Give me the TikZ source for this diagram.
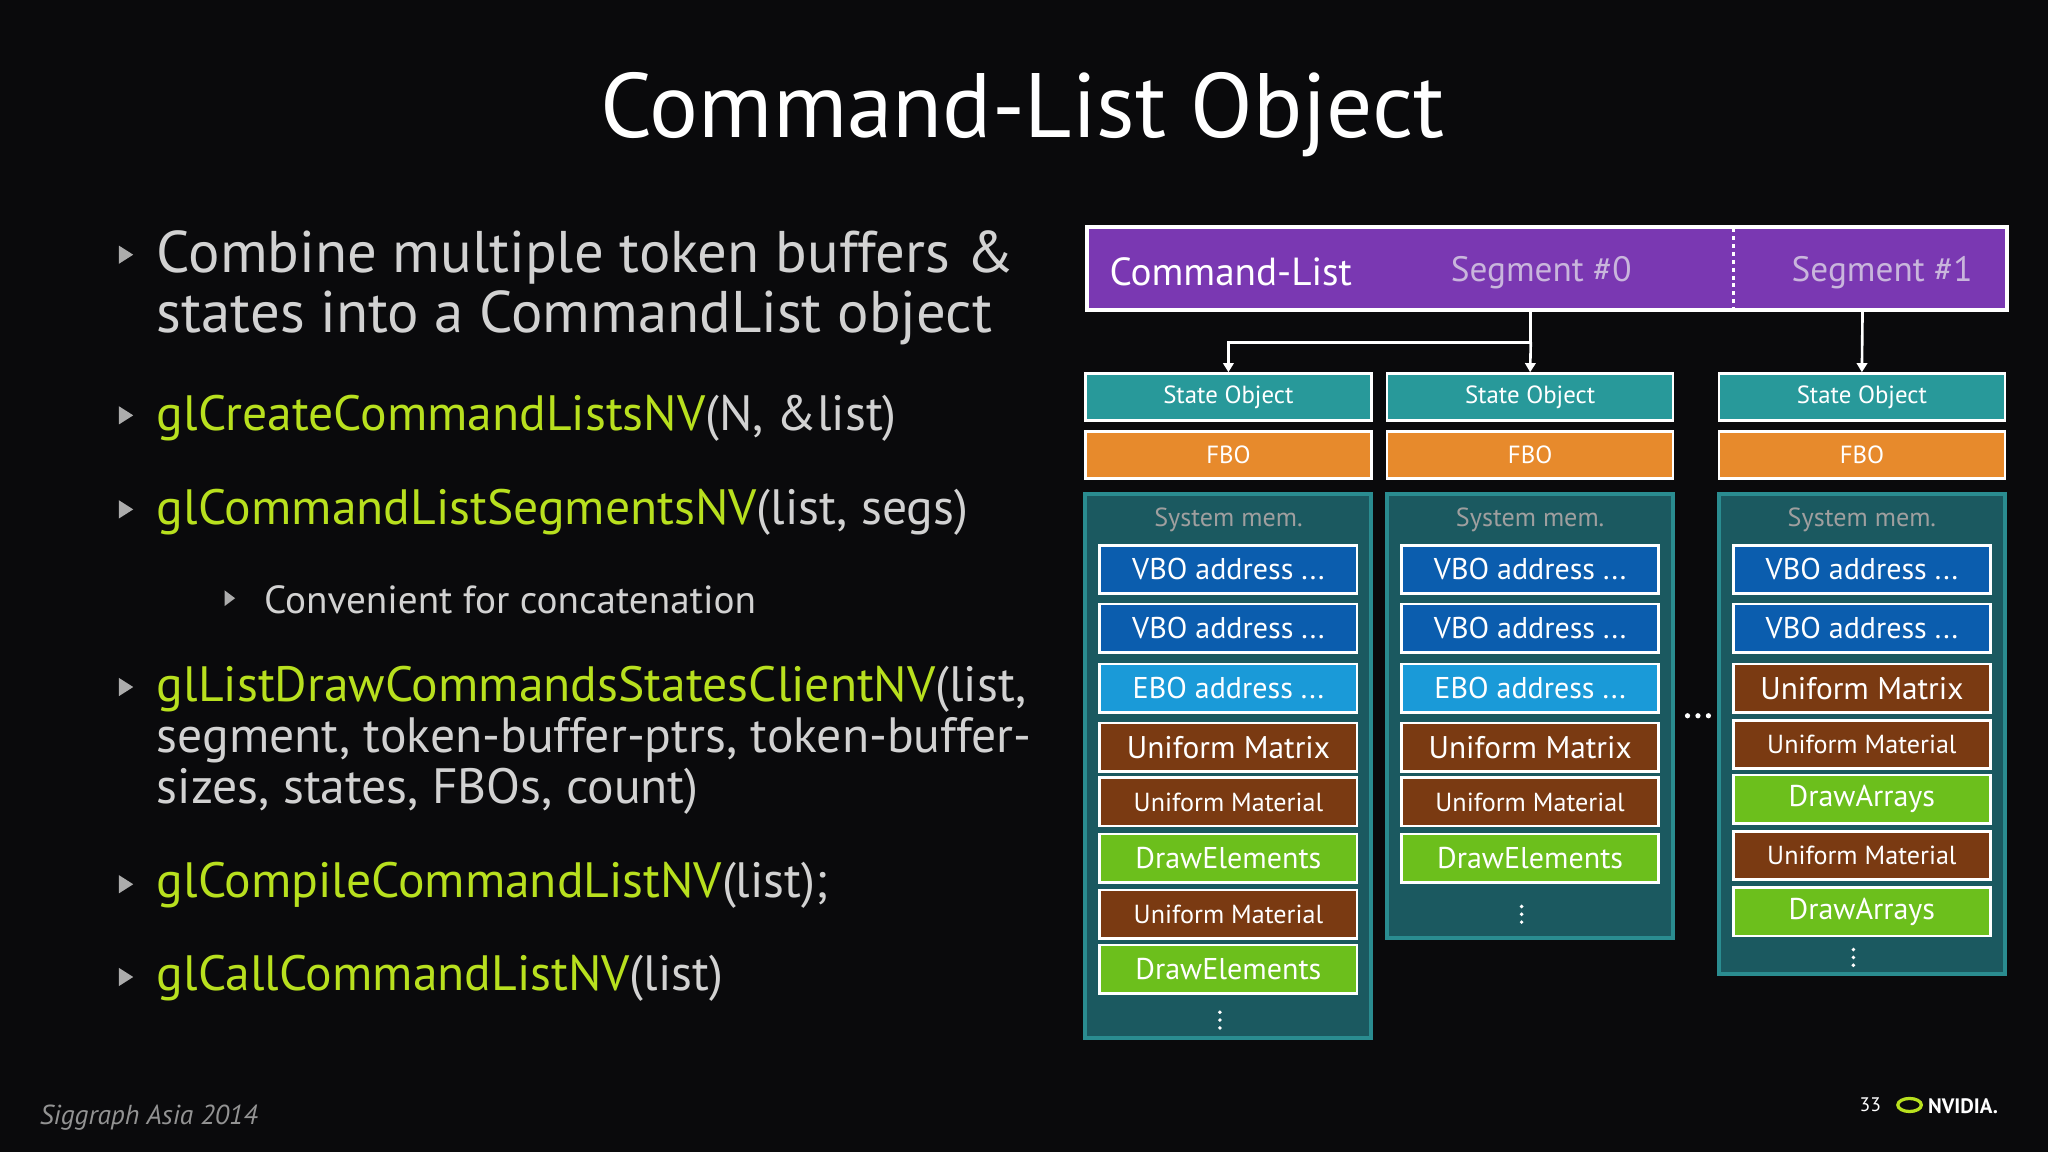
\documentclass[tikz,border=0pt]{standalone}
\usepackage{fontspec}
\setmainfont{PT Sans}
\usetikzlibrary{arrows.meta}
\definecolor{bg}{HTML}{0A0A0C}
\definecolor{txt}{HTML}{D2D2D2}
\definecolor{nvg}{HTML}{B8E01E}
\definecolor{purp}{HTML}{7A38B2}
\definecolor{segt}{HTML}{C9B6DC}
\definecolor{teal}{HTML}{28999A}
\definecolor{orng}{HTML}{E78A2C}
\definecolor{cont}{HTML}{1B5960}
\definecolor{contb}{HTML}{2A8C90}
\definecolor{vbo}{HTML}{0B5DAE}
\definecolor{ebo}{HTML}{1A9AD8}
\definecolor{unif}{HTML}{7A3A12}
\definecolor{drw}{HTML}{6CBF1C}
\tikzset{
 fs/.style={font=\fontsize{#1}{#1}\selectfont},
 hdr/.style={draw=white, line width=2pt, minimum width=219pt, minimum height=36pt, text=white, fs=19, inner sep=0pt},
 item/.style={draw=white, line width=2pt, minimum width=197pt, minimum height=37pt, text=white, inner sep=0pt},
 vbo/.style={item, fill=vbo, fs=23},
 ebo/.style={item, fill=ebo, fs=23},
 um/.style={item, fill=unif, fs=24},
 umat/.style={item, fill=unif, fs=20},
 dr/.style={item, fill=drw, fs=23},
 box/.style={draw=contb, line width=3pt, fill=cont},
 arr/.style={draw=white, line width=2pt, -{Triangle[length=7pt,width=8pt]}},
 btxt/.style={anchor=west, text=txt, fs=41, inner sep=0pt},
 tri/.style={fill=gray!65},
 dot/.style={fill=white}
}
\newcommand{\vdts}[2]{\fill[dot] (#1,#2-6) circle (1.5pt) (#1,#2) circle (1.5pt) (#1,#2+6) circle (1.5pt);}
\begin{document}
\begin{tikzpicture}[x=1pt,y=-1pt]
\fill[bg] (0,0) rectangle (1568,882);
\useasboundingbox (0,0) rectangle (1568,882);
\node[text=white, fs=70] (title) at (783,88) {Command-List Object};
% bullets
\newcommand{\tbul}[2]{\fill[tri] (#1-5,#2-7) -- (#1+6,#2) -- (#1-5,#2+7) -- cycle;}
\tbul{96}{195}\tbul{96}{318}\tbul{96}{390}\tbul{96}{526}\tbul{96}{677}\tbul{96}{748}
\fill[tri] (172,452) -- (180,458) -- (172,464) -- cycle;
\node[btxt, fs=45] (b1a) at (120,197) {Combine multiple token buffers \&};
\node[btxt, fs=45] (b1b) at (120,243) {states into a CommandList object};
\node[btxt, fs=38] (b2) at (120,320) {\textcolor{nvg}{glCreateCommandListsNV}(N, \&list)};
\node[btxt, fs=38] (b3) at (120,392) {\textcolor{nvg}{glCommandListSegmentsNV}(list, segs)};
\node[btxt, fs=30] (b3a) at (202,459) {Convenient for concatenation};
\node[btxt, fs=38] (b4a) at (120,528) {\textcolor{nvg}{glListDrawCommandsStatesClientNV}(list,};
\node[btxt, fs=38] (b4b) at (120,567) {segment, token-buffer-ptrs, token-buffer-};
\node[btxt, fs=38] (b4c) at (120,606) {sizes, states, FBOs, count)};
\node[btxt, fs=38] (b5) at (120,678) {\textcolor{nvg}{glCompileCommandListNV}(list);};
\node[btxt, fs=38] (b6) at (120,749) {\textcolor{nvg}{glCallCommandListNV}(list)};
% footer
\node[anchor=west, text=gray!85, font=\fontsize{21}{21}\selectfont\itshape] (foot) at (27,856) {Siggraph Asia 2014};
\node[text=white, fs=15] (pg) at (1432,846) {33};
\node[text=white, font=\fontsize{16}{16}\selectfont\bfseries, anchor=west, inner sep=0pt] (nv) at (1476,847) {NVIDIA.};
\draw[nvg, line width=2.5pt] (1462,846) ellipse (9pt and 5pt);
% command list bar
\node[draw=white, line width=3pt, fill=purp, minimum width=704pt, minimum height=64pt, inner sep=0pt] (bar) at (1184.5,205.5) {};
\node[text=white, fs=30, anchor=west] (cl) at (846,208) {Command-List};
\node[text=segt, fs=27] (s0) at (1180,209) {Segment \#0};
\node[text=segt, fs=27] (s1) at (1441,209) {Segment \#1};
\draw[white, line width=2pt, dashed] (1327,175) -- (1327,236);
% columns
\foreach \n/\x in {1/940.5,2/1171.5,3/1425.5}{
 \node[hdr, fill=teal] (so\n) at (\x,304) {State Object};
 \node[hdr, fill=orng] (fbo\n) at (\x,348.5) {FBO};
}
\draw[box] (831,378) rectangle (1050,795);
\draw[box] (1062,378) rectangle (1281,718);
\draw[box] (1316,378) rectangle (1535,746);
\foreach \n/\x in {1/940.5,2/1171.5,3/1425.5}{
 \node[text=gray!75, fs=20] (sm\n) at (\x,398) {System mem.};
}
\coordinate (j) at (1172,262);
\draw[white, line width=2pt] (j) -- (1172,239);
\draw[arr] (j) -| (so1.north);
\draw[arr] (j) -- (so2.north);
\draw[arr] (1426,239) -- (so3.north);
% column 1
\node[vbo] (a1) at (940.5,436) {VBO address ...};
\node[vbo] (a2) at (940.5,481) {VBO address ...};
\node[ebo] (a3) at (940.5,527) {EBO address ...};
\node[um] (a4) at (940.5,572) {Uniform Matrix};
\node[umat] (a5) at (940.5,614) {Uniform Material};
\node[dr] (a6) at (940.5,657) {DrawElements};
\node[umat] (a7) at (940.5,700) {Uniform Material};
\node[dr] (a8) at (940.5,742) {DrawElements};
\vdts{934}{781}
% column 2
\node[vbo] (b1) at (1171.5,436) {VBO address ...};
\node[vbo] (b2) at (1171.5,481) {VBO address ...};
\node[ebo] (b3) at (1171.5,527) {EBO address ...};
\node[um] (b4) at (1171.5,572) {Uniform Matrix};
\node[umat] (b5) at (1171.5,614) {Uniform Material};
\node[dr] (b6) at (1171.5,657) {DrawElements};
\vdts{1165}{700}
% column 3
\node[vbo] (c1) at (1425.5,436) {VBO address ...};
\node[vbo] (c2) at (1425.5,481) {VBO address ...};
\node[um] (c3) at (1425.5,527) {Uniform Matrix};
\node[umat] (c4) at (1425.5,570) {Uniform Material};
\node[dr] (c5) at (1425.5,612) {DrawArrays};
\node[umat] (c6) at (1425.5,655) {Uniform Material};
\node[dr] (c7) at (1425.5,698) {DrawArrays};
\vdts{1419}{733}
\fill[dot] (1292,548) circle (2pt) (1300,548) circle (2pt) (1308,548) circle (2pt);
\end{tikzpicture}
\end{document}
